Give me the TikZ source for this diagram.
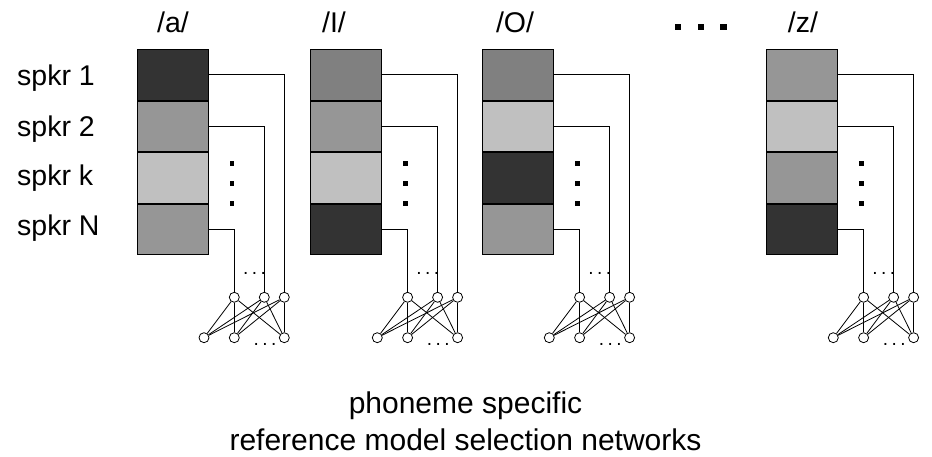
\documentclass[tikz,border=0pt]{standalone}
\usepackage{fontspec}
\setmainfont{Liberation Sans}
\usetikzlibrary{positioning}

\definecolor{cellD}{HTML}{333333}
\definecolor{cellM}{HTML}{808080}
\definecolor{cellG}{HTML}{969696}
\definecolor{cellL}{HTML}{C0C0C0}

\begin{document}
\begin{tikzpicture}[x=1pt, y=-1pt, node distance=0pt,
        cell/.style={draw, line width=1pt, inner sep=0pt, minimum width=71.5pt, minimum height=50.6pt},
        wire/.style={line width=0.8pt},
        unit/.style={draw, circle, fill=white, line width=0.8pt, inner sep=0pt, minimum size=10pt},
        vdot/.style={fill=black, inner sep=0pt, minimum size=4.5pt},
        hdot/.style={fill=black, inner sep=0pt, minimum size=6.5pt},
        lbl/.style={font=\fontsize{28.5}{34}\selectfont, inner sep=0pt},
        sdots/.style={font=\fontsize{19}{20}\selectfont, inner sep=0pt}]
        \useasboundingbox (0, 0) rectangle (932, 457);

        \node[lbl, anchor=base west] (s1) at (17, 86) {spkr 1};
        \node[lbl, anchor=base west] (s2) at (17, 137) {spkr 2};
        \node[lbl, anchor=base west] (sk) at (17, 186) {spkr k};
        \node[lbl, anchor=base west] (sN) at (17, 236) {spkr N};

        \foreach \n/\X/\hx/\ca/\cb/\cc/\cd in {a/137/173/cellD/cellG/cellL/cellG,
                I/310.3/334/cellM/cellG/cellL/cellD,
                O/482.3/515/cellM/cellL/cellD/cellG,
                z/766.3/803/cellG/cellL/cellG/cellD} {
            \node[lbl, anchor=base] (h-\n) at (\hx, 33) {/\n/};
            \node[cell, fill=\ca] (\n1) at (\X+35.75, 74.8) {};
            \node[cell, fill=\cb, below=of \n1] (\n2) {};
            \node[cell, fill=\cc, below=of \n2] (\n3) {};
            \node[cell, fill=\cd, below=of \n3] (\n4) {};

            \node[vdot] (\n-d1) at (\X+95, 163.3) {};
            \node[vdot] (\n-d2) at (\X+95, 183.3) {};
            \node[vdot] (\n-d3) at (\X+95, 203.3) {};

            \node[unit] (\n-t1) at (\X+97.3, 297.3) {};
            \node[unit] (\n-t2) at (\X+127.3, 297.3) {};
            \node[unit] (\n-t3) at (\X+147.3, 297.3) {};
            \node[unit] (\n-b1) at (\X+67, 337.7) {};
            \node[unit] (\n-b2) at (\X+97.3, 337.7) {};
            \node[unit] (\n-b3) at (\X+147.3, 337.7) {};

            \node[sdots, anchor=base] (\n-e1) at (\X+117.5, 274.5) {.\hspace{3.5pt}.\hspace{3.5pt}.};
            \node[sdots, anchor=base] (\n-e2) at (\X+128, 345) {.\hspace{3.5pt}.\hspace{3.5pt}.};

            \draw[wire] (\n1.east) -| (\n-t3);
            \draw[wire] (\n2.east) -| (\n-t2);
            \draw[wire] (\n4.east) -| (\n-t1);
            \foreach \i in {1,2,3}
                \foreach \j in {1,2,3}
                    \draw[wire] (\n-t\i) -- (\n-b\j);
        }

        \foreach \i/\x in {1/678, 2/701, 3/723.5}
            \node[hdot] (hd\i) at (\x, 27) {};

        \node[font=\fontsize{30}{37}\selectfont, align=center, anchor=base] (cap) at (465.5, 450) {phoneme specific\\reference model selection networks};
    \end{tikzpicture}
\end{document}
